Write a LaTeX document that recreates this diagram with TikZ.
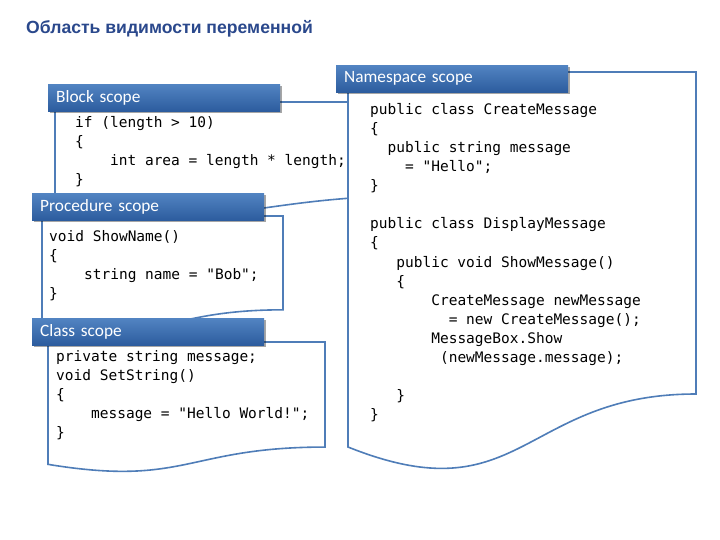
\documentclass[tikz,border=0pt]{standalone}
\usepackage{fontspec}
\setmainfont{Liberation Sans}
\newfontfamily\codefont{DejaVu Sans Mono}
\newfontfamily\lblfont{Carlito}
\usetikzlibrary{shadows}
\definecolor{titleblue}{RGB}{42,72,140}
\definecolor{lineblue}{RGB}{79,125,184}
\definecolor{lbltop}{RGB}{82,132,194}
\definecolor{lblbot}{RGB}{44,92,158}
\newcommand{\docshape}[4]{%
  \draw[docline] (#1,#3) -- (#2,#3) -- (#2,{#3+0.802*#4})
    .. controls ({(#1+#2)/2},{#3+0.802*#4}) and ({(#1+#2)/2},{#3+1.1075*#4}) ..
    (#1,{#3+0.934*#4}) -- cycle;}
\tikzset{
  docline/.style={draw=lineblue, line width=1.6pt, fill=white, line join=miter},
  lbl/.style={rectangle, anchor=north west, minimum width=232pt, minimum height=27pt,
    text width=216pt, inner xsep=8pt, inner ysep=0pt, align=left,
    top color=lbltop, bottom color=lblbot, draw=none, text=white,
    font=\lblfont\fontsize{17.3}{20}\selectfont,
    drop shadow={shadow xshift=2pt, shadow yshift=-2pt, opacity=0.35, fill=black}},
  code/.style={anchor=north west, inner sep=0pt, align=left,
    font=\codefont\fontsize{14.5}{19.1}\selectfont}
}
\begin{document}
\begin{tikzpicture}[x=1pt, y=-1pt]
\useasboundingbox (0,0) rectangle (720,540);
\fill[white] (0,0) rectangle (720,540);
\node[anchor=west, inner sep=0pt, font=\bfseries\fontsize{17.6}{20}\selectfont, text=titleblue] (title) at (26,28.5) {Область видимости переменной};
% document shapes
\docshape{55}{440}{102}{116}
\node[code] (blockcode) at (75,116) {if (length > 10)\\\{\\~~~~int area = length * length;\\\}};
\docshape{348}{696}{72}{401.5}
\node[code] (nscode) at (370,103) {public class CreateMessage\\\{\\~~public string message\\~~~~= "Hello";\\\}\\~\\public class DisplayMessage\\\{\\~~~public void ShowMessage()\\~~~\{\\~~~~~~~CreateMessage newMessage\\~~~~~~~~~= new CreateMessage();\\~~~~~~~MessageBox.Show\\~~~~~~~~(newMessage.message);\\~\\~~~\}\\\}};
\docshape{42}{283}{216}{117}
\node[code] (proccode) at (49,230) {void ShowName()\\\{\\~~~~string name = "Bob";\\\}};
\docshape{48}{325}{342}{131}
\node[code] (classcode) at (56,350) {private string message;\\void SetString()\\\{\\~~~~message = "Hello World!";\\\}};
% labels
\node[lbl] (lblock) at (48,84) {Block scope};
\node[lbl] (lns) at (336,65) {Namespace scope};
\node[lbl] (lproc) at (32,193) {Procedure scope};
\node[lbl] (lclass) at (32,318) {Class scope};
\end{tikzpicture}
\end{document}
